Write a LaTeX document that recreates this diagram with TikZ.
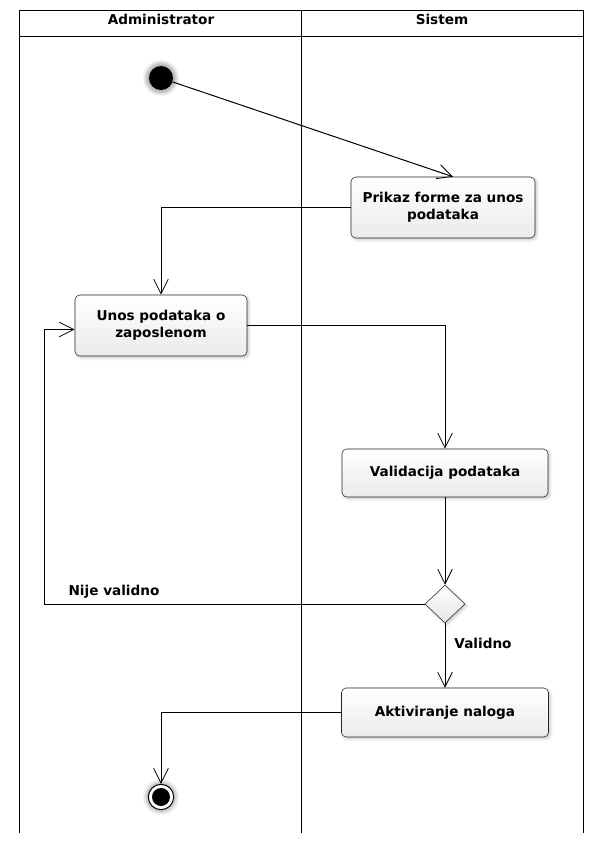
\documentclass[tikz,border=0pt]{standalone}
\usepackage{fontspec}
\setmainfont{DejaVu Sans}
\usepackage{tikz}
\usetikzlibrary{arrows.meta}
\usetikzlibrary{shapes.geometric}
\usetikzlibrary{shadows.blur}
\begin{document}
\begin{tikzpicture}[x=0.75pt,y=0.75pt,yscale=-1,xscale=1,
  font=\fontsize{10.2}{12.5}\selectfont\bfseries,
  action/.style={draw=black!85, rounded corners=3.5pt, align=center, top color=white, bottom color=black!8,
    blur shadow={shadow xshift=1.2pt, shadow yshift=-1.2pt, shadow blur steps=4, shadow opacity=25}},
  decision/.style={diamond, draw=black!85, minimum width=30pt, minimum height=28.5pt, inner sep=0pt, aspect=1,
    top color=white, bottom color=black!10,
    blur shadow={shadow xshift=1.2pt, shadow yshift=-1.2pt, shadow blur steps=4, shadow opacity=25}},
  flow/.style={line width=0.75pt, -{Straight Barb[length=11pt,width=11pt,line width=0.6pt]}},
  guard/.style={inner sep=0.75pt}]
\useasboundingbox (0,0) rectangle (594,843);

%Shape: Swimlanes
\draw [line width=0.75pt] (19,10) rectangle (583,36);
\draw [line width=0.75pt] (19,36) -- (19,833);
\draw [line width=0.75pt] (301,10) -- (301,833);
\draw [line width=0.75pt] (583,36) -- (583,833);

% Text Node
\node (lane1) at (161,19.5) {Administrator};
% Text Node
\node (lane2) at (442,19.5) {Sistem};

%Shape: Start
\node (start) [circle, fill=black, minimum size=18pt, inner sep=0pt,
  blur shadow={shadow xshift=0pt, shadow yshift=0pt, shadow scale=1.25, shadow blur steps=5, shadow opacity=35}] at (161,78) {};

%Shape: Actions
\node (prikaz) [action, minimum width=138pt, minimum height=45.75pt] at (443,207.5) {Prikaz forme za unos\\podataka};
\node (unos) [action, minimum width=129pt, minimum height=45.75pt] at (161,325.5) {Unos podataka o\\zaposlenom};
\node (valid) [action, minimum width=154.5pt, minimum height=36pt] at (445,473) {Validacija podataka};
\node (dec) [decision] at (445,604) {};
\node (aktiv) [action, minimum width=155.25pt, minimum height=36.75pt] at (445,712.5) {Aktiviranje naloga};

%Shape: End
\node (end) [circle, draw=black, line width=0.75pt, fill=white, minimum size=19pt, inner sep=0pt,
  blur shadow={shadow xshift=0pt, shadow yshift=0pt, shadow scale=1.2, shadow blur steps=4, shadow opacity=30}] at (161,797) {};
\node (endDot) [circle, fill=black, minimum size=13.5pt, inner sep=0pt] at (end.center) {};

%Straight Lines
\draw [flow] (start) -- ([xshift=7.5pt]prikaz.north);
\draw [flow] (prikaz.west) -| (unos.north);
\draw [flow] (unos.east) -| (valid.north);
\draw [flow] (valid.south) -- (dec.north);
\draw [flow] (dec.west) -- ++(-380,0) |- ([yshift=3pt]unos.west);
\draw [flow] (dec.south) -- (aktiv.north);
\draw [flow] (aktiv.west) -| (end.north);

% Text Node
\node (nije) [guard] at (114,592) {Nije validno};
% Text Node
\node (validno) [guard] at (483,643) {Validno};

\end{tikzpicture}
\end{document}
